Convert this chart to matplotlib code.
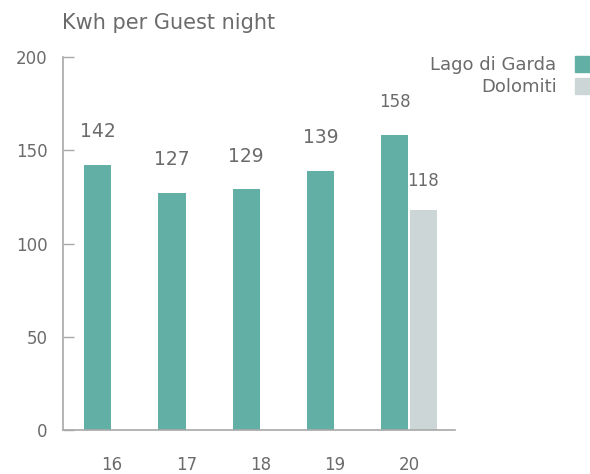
import numpy as np
import matplotlib.pyplot as plt
from matplotlib.patches import Patch

# energy use per guest night, by season
years = ['16', '17', '18', '19', '20']
garda = [142, 127, 129, 139, 158]
dolomiti = [np.nan, np.nan, np.nan, np.nan, 118]

green = '#62afa5'
grey = '#cdd6d7'
txt = '#6b6b6b'
line = '#a8a8a8'

plt.rcParams['font.family'] = ['DejaVu Sans']

fig = plt.figure(figsize=(5.9, 4.74), dpi=100)
ax = fig.add_axes([0.1068, 0.0928, 0.6644, 0.7869])

x = np.arange(len(years))
w = 0.365
gap = 0.02
xg = x - w / 2 - gap / 2
xd = x + w / 2 + gap / 2

ax.bar(xg, garda, width=w, color=green, label='Lago di Garda')
ax.bar(xd, dolomiti, width=w, color=grey, label='Dolomiti')

# value labels above the bars (the last group uses a smaller size)
for i, v in enumerate(garda):
    fs = 12 if i == len(garda) - 1 else 13.5
    ax.annotate(str(v), (xg[i], v), xytext=(0, 24), textcoords='offset points',
                ha='center', va='center', fontsize=fs, color=txt)
for i, v in enumerate(dolomiti):
    if not np.isnan(v):
        ax.annotate(str(v), (xd[i], v), xytext=(0, 21), textcoords='offset points',
                    ha='center', va='center', fontsize=12, color=txt)

ax.set_xlim(-0.66, 4.62)
ax.set_ylim(0, 200)
ax.set_yticks([0, 50, 100, 150, 200])
ax.set_xticks(x)
ax.set_xticklabels(years)

for s in ['top', 'right']:
    ax.spines[s].set_visible(False)
for s in ['left', 'bottom']:
    ax.spines[s].set_color(line)
    ax.spines[s].set_linewidth(1.2)

ax.tick_params(axis='y', direction='in', length=8, width=1, color=line,
               labelsize=12, labelcolor=txt, pad=11)
ax.tick_params(axis='x', length=0, labelsize=12, labelcolor=txt, pad=19)

fig.text(0.105, 0.952, 'Kwh per Guest night', fontsize=15, color=txt,
         ha='left', va='center')

handles = [Patch(color=green), Patch(color=grey)]
fig.legend(handles, ['Lago di Garda', 'Dolomiti'], loc='upper right',
           bbox_to_anchor=(1.0, 0.882), frameon=False, markerfirst=False,
           fontsize=13, labelcolor=txt, handlelength=0.85, handleheight=1.0,
           handletextpad=1.0, labelspacing=0.2, borderaxespad=0,
           borderpad=0)

fig.savefig('out.png', dpi=100)
